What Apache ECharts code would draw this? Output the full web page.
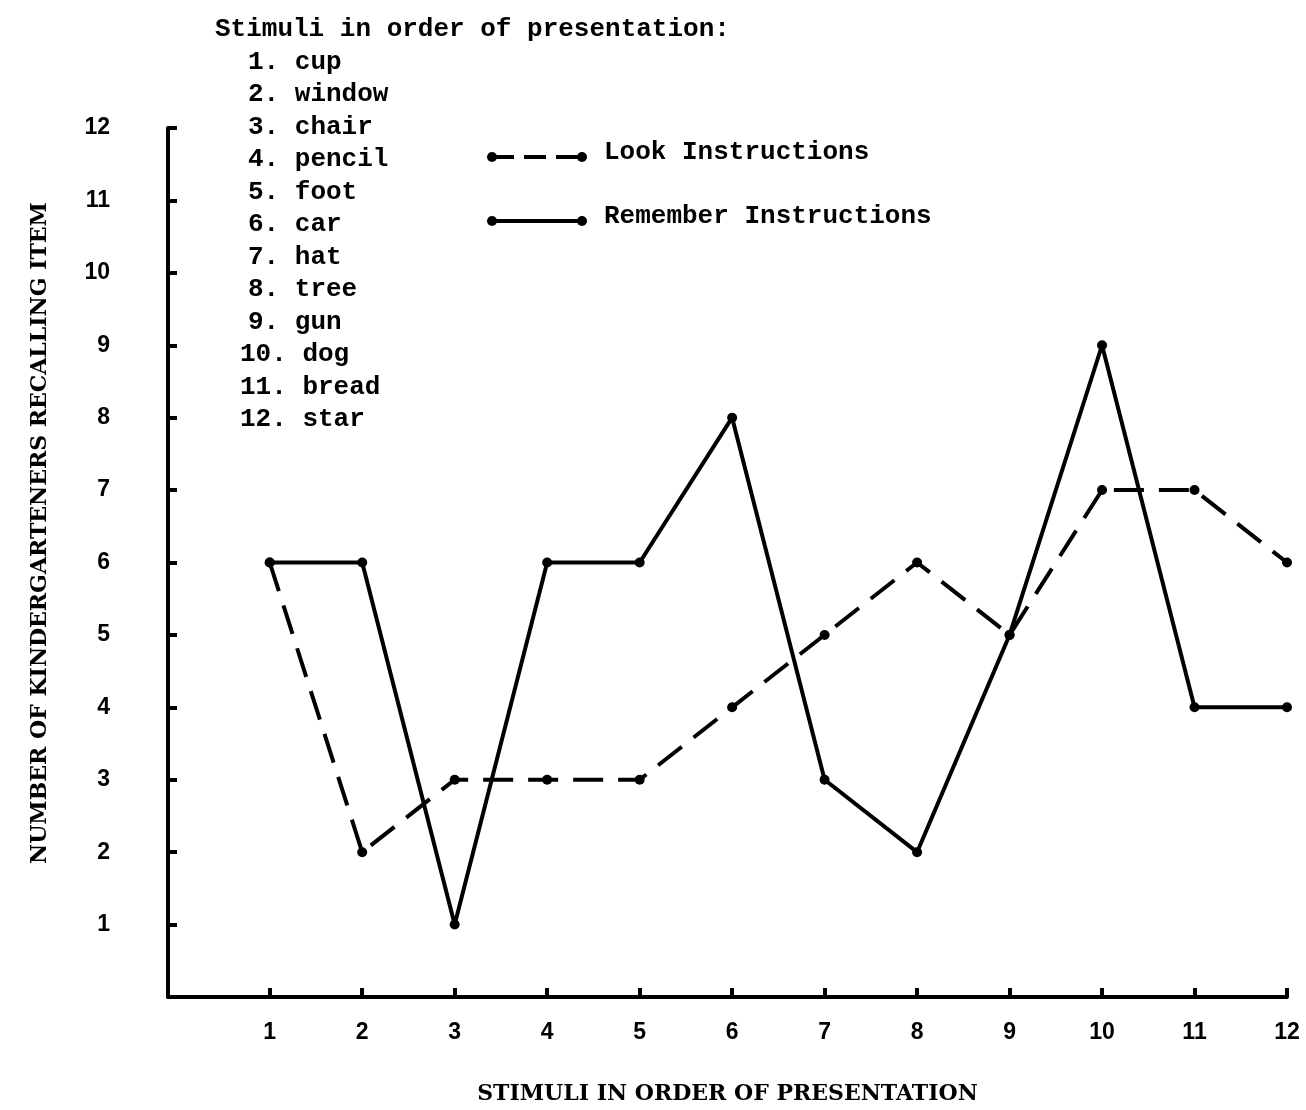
<!DOCTYPE html>
<html>
<head>
<meta charset="utf-8">
<script src="https://cdn.jsdelivr.net/npm/echarts@6/dist/echarts.min.js"></script>
<style>
html,body{margin:0;padding:0;background:#fff;}
#chart{width:1306px;height:1110px;}
</style>
</head>
<body>
<div id="chart"></div>
<script>
// Data
const stimuliIdx = [1,2,3,4,5,6,7,8,9,10,11,12];
const stimuliNames = ['cup','window','chair','pencil','foot','car','hat','tree','gun','dog','bread','star'];
const lookValues = [6,2,3,3,3,4,5,6,5,7,7,6];
const rememberValues = [6,6,1,6,6,8,3,2,5,9,4,4];
const yTicks = [1,2,3,4,5,6,7,8,9,10,11,12];
const listTitle = 'Stimuli in order of presentation:';
const xAxisName = 'STIMULI IN ORDER OF PRESENTATION';
const yAxisName = 'NUMBER OF KINDERGARTENERS RECALLING ITEM';
const seriesNames = ['Look Instructions','Remember Instructions'];

const chart = echarts.init(document.getElementById('chart'));
const mono = '"Liberation Mono", "DejaVu Sans Mono", monospace';
const tickFont = '"Liberation Sans", Arial, sans-serif';
const capsFont = '"DejaVu Serif", "Liberation Serif", serif';

const graphics = [];
graphics.push({type:'text', left:215, top:16, style:{text:listTitle, font:'bold 26px ' + mono, fill:'#000'}});
stimuliNames.forEach((n,i)=>{
  const idx = stimuliIdx[i];
  graphics.push({type:'text', left: idx>=10 ? 240 : 248, top: 49 + i*32.5,
    style:{text: idx + '. ' + n, font:'bold 26px ' + mono, fill:'#000'}});
});
// legend
const legendRows = [{y:157, dash:[22,10]}, {y:221, dash:null}];
legendRows.forEach((r,i)=>{
  graphics.push({type:'line', shape:{x1:492,y1:r.y,x2:582,y2:r.y},
    style:{stroke:'#000', lineWidth:4, lineDash:r.dash}});
  graphics.push({type:'circle', shape:{cx:492,cy:r.y,r:5}, style:{fill:'#000'}});
  graphics.push({type:'circle', shape:{cx:582,cy:r.y,r:5}, style:{fill:'#000'}});
  graphics.push({type:'text', left:604, top:r.y-18, style:{text:seriesNames[i], font:'bold 26px ' + mono, fill:'#000'}});
});
// y axis name
graphics.push({type:'text', x:40, y:533, rotation:Math.PI/2,
  style:{text:yAxisName, font:'bold 22px ' + capsFont, fill:'#000', align:'center', verticalAlign:'middle'}});

chart.setOption({
  animation:false,
  backgroundColor:'#fff',
  grid:{left:168, right:19, top:128, bottom:113},
  xAxis:{
    type:'value', min:-0.1, max:12,
    axisLine:{show:true, onZero:false, lineStyle:{color:'#000', width:4}},
    axisTick:{show:true, inside:true, length:9, customValues:stimuliIdx, lineStyle:{color:'#000', width:4}},
    axisLabel:{show:true, margin:24, customValues:stimuliIdx, color:'#000', fontSize:23, fontWeight:'bold', fontFamily:tickFont},
    splitLine:{show:false},
    name:xAxisName, nameLocation:'middle', nameGap:86,
    nameTextStyle:{color:'#000', fontSize:22, fontWeight:'bold', fontFamily:capsFont}
  },
  yAxis:{
    type:'value', min:0, max:12, interval:1,
    axisLine:{show:true, onZero:false, lineStyle:{color:'#000', width:4}},
    axisTick:{show:true, inside:true, length:9, customValues:yTicks, lineStyle:{color:'#000', width:4}},
    axisLabel:{show:true, margin:58, customValues:yTicks, color:'#000', fontSize:23, fontWeight:'bold', fontFamily:tickFont},
    splitLine:{show:false}
  },
  graphic:graphics,
  series:[
    {name:seriesNames[0], type:'line', data:stimuliIdx.map((x,i)=>[x, lookValues[i]]),
      symbol:'circle', symbolSize:10, itemStyle:{color:'#000'},
      lineStyle:{color:'#000', width:4, type:[30,15]}, z:3},
    {name:seriesNames[1], type:'line', data:stimuliIdx.map((x,i)=>[x, rememberValues[i]]),
      symbol:'circle', symbolSize:10, itemStyle:{color:'#000'},
      lineStyle:{color:'#000', width:4}, z:4}
  ]
});
</script>
</body>
</html>
